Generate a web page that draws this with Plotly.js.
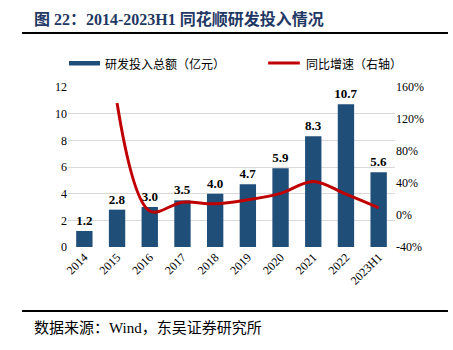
<!DOCTYPE html>
<html><head><meta charset="utf-8">
<script src="https://cdn.plot.ly/plotly-3.0.1.min.js"></script>
<style>body{margin:0;background:#fff}#c{width:453px;height:350px}</style>
</head><body><div id="c"></div>
<script>
const categories = ["2014","2015","2016","2017","2018","2019","2020","2021","2022","2023H1"];
const rdSpend = [1.2, 2.8, 3.0, 3.5, 4.0, 4.7, 5.9, 8.3, 10.7, 5.6];
const growthYears = ["2015","2016","2017","2018","2019","2020","2021","2022","2023H1"];
const growthPct = [140, 5, 16, 14, 19, 27, 42, 26, 9];
const leftTicks = [0,2,4,6,8,10,12];
const rightTicks = [-40,0,40,80,120,160];

const serif = "Liberation Serif, Times New Roman, Noto Sans CJK SC, serif";
const cjk = "Noto Sans CJK SC, sans-serif";

const traces = [
  {type:'bar', x:categories, y:rdSpend, marker:{color:'#1f4e79'}, width:0.5,
   text:rdSpend.map(v=>v.toFixed(1)), textposition:'outside', cliponaxis:false, constraintext:'none',
   textfont:{family:serif, size:13, color:'#000', weight:'bold'}, showlegend:false, hoverinfo:'skip'},
  {type:'scatter', mode:'lines', x:growthYears, y:growthPct, yaxis:'y2',
   line:{color:'#c00000', width:3, shape:'spline', smoothing:1}, showlegend:false, hoverinfo:'skip'}
];

const layout = {
  width:453, height:350, margin:{l:68, r:58, t:87, b:103},
  paper_bgcolor:'#fff', plot_bgcolor:'#fff', showlegend:false,
  font:{family:serif, color:'#000'},
  bargap:0.5,
  xaxis:{type:'category', tickangle:-45, tickfont:{family:serif, size:12, color:'#000'},
         showgrid:false, showline:false, ticks:'', automargin:false},
  yaxis:{range:[0,12], tickvals:leftTicks, ticktext:leftTicks.map(String),
         tickfont:{family:serif, size:12, color:'#000'}, showgrid:true, gridcolor:'#d9d9d9', gridwidth:1,
         zeroline:false, showline:false, ticks:'', automargin:false},
  yaxis2:{overlaying:'y', side:'right', range:[-40,160], tickvals:rightTicks, ticktext:rightTicks.map(v=>v+'%'),
          tickfont:{family:serif, size:12, color:'#000'}, showgrid:false, zeroline:false, showline:false, ticks:'', automargin:false},
  shapes:[
    {type:'line', xref:'paper', yref:'paper', x0:-0.1407, x1:1.162, y0:1.3375, y1:1.3375, line:{color:'#000', width:2}},
    {type:'line', xref:'paper', yref:'paper', x0:-0.1407, x1:1.162, y0:-0.4, y1:-0.4, line:{color:'#000', width:2}},
    {type:'rect', xref:'paper', yref:'paper', x0:0.003, x1:0.098, y0:1.134, y1:1.163, fillcolor:'#1f4e79', line:{width:0}},
    {type:'line', xref:'paper', yref:'paper', x0:0.612, x1:0.709, y0:1.15, y1:1.15, line:{color:'#c00000', width:3}}
  ],
  annotations:[
    {xref:'paper', yref:'paper', x:-0.11, y:1.425, xanchor:'left', yanchor:'middle', showarrow:false,
     text:'<b>图 22：2014-2023H1 同花顺研发投入情况</b>', font:{family:serif, size:16, color:'#1f3864'}},
    {xref:'paper', yref:'paper', x:0.107, y:1.15, xanchor:'left', yanchor:'middle', showarrow:false,
     text:'研发投入总额（亿元）', font:{family:cjk, size:12, color:'#000'}},
    {xref:'paper', yref:'paper', x:0.722, y:1.15, xanchor:'left', yanchor:'middle', showarrow:false,
     text:'同比增速（右轴）', font:{family:cjk, size:12, color:'#000'}},
    {xref:'paper', yref:'paper', x:-0.11, y:-0.506, xanchor:'left', yanchor:'middle', showarrow:false,
     text:'数据来源：Wind，东吴证券研究所', font:{family:serif, size:15, color:'#000'}}
  ]
};
Plotly.newPlot('c', traces, layout, {staticPlot:true, displayModeBar:false});
</script></body></html>
